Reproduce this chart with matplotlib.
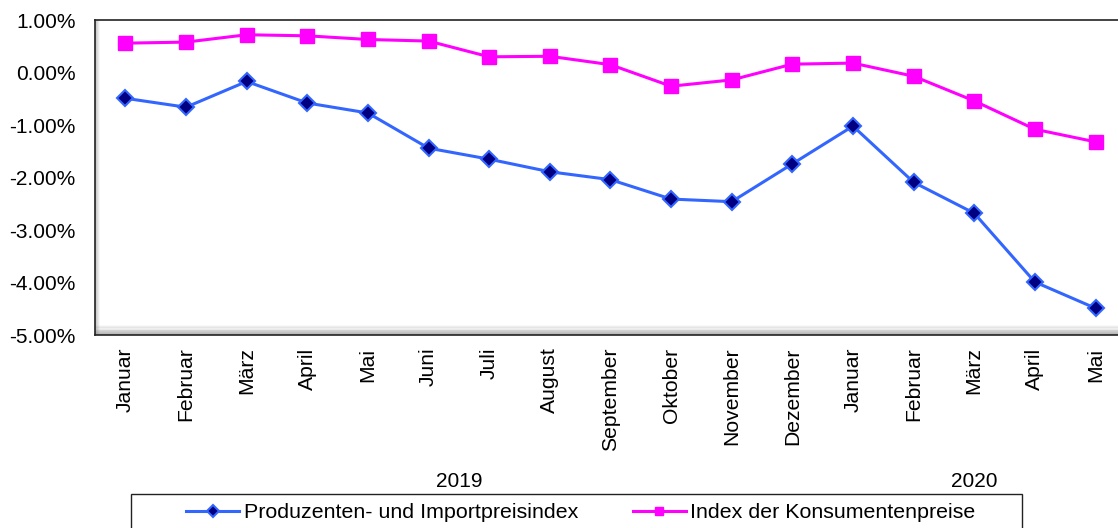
import numpy as np
import matplotlib
matplotlib.use("Agg")
import matplotlib.pyplot as plt
from matplotlib.ticker import FuncFormatter
from matplotlib.patches import Rectangle

plt.rcParams["font.family"] = ["Liberation Sans", "DejaVu Sans"]

# Monthly values in percent
months = ["Januar", "Februar", "März", "April", "Mai", "Juni", "Juli", "August",
          "September", "Oktober", "November", "Dezember",
          "Januar", "Februar", "März", "April", "Mai"]
ppi = [-0.49, -0.66, -0.17, -0.58, -0.77, -1.44, -1.65, -1.89, -2.04, -2.41,
       -2.46, -1.74, -1.02, -2.09, -2.68, -3.99, -4.49]
cpi = [0.56, 0.58, 0.72, 0.70, 0.63, 0.60, 0.30, 0.31, 0.15, -0.26,
       -0.14, 0.16, 0.18, -0.07, -0.54, -1.08, -1.32]
years = ["2019", "2020"]
year_pos = [5.5, 14.0]

fig = plt.figure(figsize=(11.18, 5.28), dpi=100)
ax = fig.add_axes([0.085, 0.3655, 0.922, 0.5965])

x = np.arange(len(months))
l1, = ax.plot(x, ppi, color="#3366FF", lw=2.2, marker="D", ms=8,
              mfc="#000080", mec="#3366FF", mew=1.5,
              label="Produzenten- und Importpreisindex", zorder=4)
l2, = ax.plot(x, cpi, color="#FF00FF", lw=2.2, marker="s", ms=10.5,
              mfc="#FF00FF", mec="#FF00FF",
              label="Index der Konsumentenpreise", zorder=4)

ax.set_xlim(-0.5, len(months) - 0.5)
ax.set_ylim(-5, 1)
ax.set_yticks(np.arange(-5, 1.01, 1))
ax.yaxis.set_major_formatter(FuncFormatter(lambda v, p: f"{v:.2f}%"))
ax.set_xticks(x)
ax.set_xticklabels(months, rotation=90, fontsize=15.2)
ax.tick_params(axis="y", labelsize=15, length=0, pad=14)
ax.tick_params(axis="x", length=0, pad=9)

for s in ax.spines.values():
    s.set_color("#222222")
    s.set_linewidth(1.2)
ax.spines["right"].set_visible(False)

# inset shadow along the inner left and bottom edges
for i in range(9):
    a = 0.45 * (1 - i / 9)
    ax.plot([0, 1], [i * 0.0035, i * 0.0035], transform=ax.transAxes,
            color="grey", alpha=a, lw=1.2, zorder=1, solid_capstyle="butt")
for i in range(5):
    a = 0.35 * (1 - i / 5)
    ax.plot([i * 0.001, i * 0.001], [0, 1], transform=ax.transAxes,
            color="grey", alpha=a, lw=1.2, zorder=1, solid_capstyle="butt")
ax.plot([0.9955, 0.9955], [0, 0.97], transform=ax.transAxes, color="#bbbbbb",
        lw=2, zorder=1)

for yr, xp in zip(years, year_pos):
    ax.text(xp, -147 / 315, yr, transform=ax.get_xaxis_transform(),
            fontsize=15, ha="center", va="center")

# legend frame and entries
fig.patches.append(Rectangle((131 / 1118, -0.05), 891 / 1118, 0.05 + 34 / 528,
                             transform=fig.transFigure, fill=False,
                             edgecolor="#222222", lw=1))
leg = fig.legend(handles=[l1, l2], loc="center left",
                 bbox_to_anchor=(186 / 1118, 1 - 513 / 528),
                 ncol=2, fontsize=15.4, frameon=False, borderaxespad=0,
                 borderpad=0, handlelength=2.5, handletextpad=0.2,
                 columnspacing=2.55)
for h in leg.legend_handles:
    h.set_markersize(6)

fig.savefig("out.png", dpi=100)
